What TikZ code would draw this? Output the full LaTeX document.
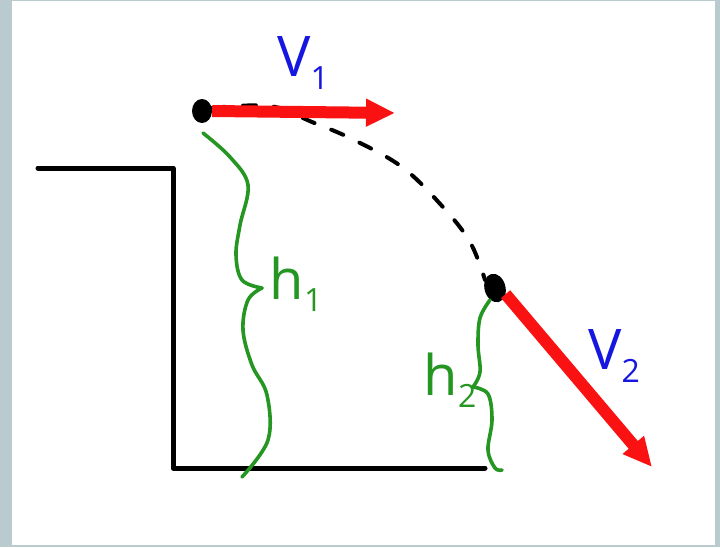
\documentclass[tikz,border=0pt]{standalone}
\usepackage{fontspec}
\setsansfont{Open Sans}
\usetikzlibrary{arrows.meta, shapes.geometric, positioning}
\definecolor{framegray}{RGB}{186,203,207}
\definecolor{penred}{RGB}{250,18,18}
\definecolor{penblue}{RGB}{22,22,225}
\definecolor{pengreen}{RGB}{38,150,34}
\newcommand{\pensub}[2]{#1\raisebox{-0.22em}{\fontsize{32}{32}\selectfont #2}}
\tikzset{
    ground/.style={draw=black, line width=5pt, line join=round, line cap=round},
    ball/.style={ellipse, fill=black, inner sep=0pt},
    velarrow/.style={draw=penred, line width=12pt, -{Triangle[length=29pt 0 0, width=26pt 0 0]}},
    flight/.style={draw=black, line width=4pt, dash pattern=on 13pt off 18pt, line cap=round},
    heightbrace/.style={draw=pengreen, line width=3.6pt, line cap=round, line join=round},
    penlabel/.style={font=\fontsize{56}{62}\selectfont\sffamily, inner sep=0pt},
}

\begin{document}
\begin{tikzpicture}[x=1pt, y=-1pt]
\fill[framegray] (0,0) rectangle (720,547);
\fill[white] (12,1) rectangle (715,545);

% cliff and ground
\draw[ground] (38,168) -- (173,168) -- (173,468) -- (485,468);

% the two positions of the ball
\node[ball, minimum width=20pt, minimum height=24pt] (ball1) at (202,111) {};
\node[ball, minimum width=21pt, minimum height=29pt, rotate=15] (ball2) at (495,288) {};
\coordinate (v1tip) at (395,113);
\coordinate (v2tip) at (652,467);

% flight path
\draw[flight] plot[smooth, tension=0.6] coordinates {(212,108) (270,106) (312,122) (352,139) (402,167) (442,206) (470,242) (ball2.north west)};

% velocities
\draw[velarrow] (ball1.east) -- (v1tip);
\draw[velarrow] (ball2.-45) -- (v2tip);
\node[penlabel, text=penblue] (v1label) at (303,63) {\pensub{V}{1}};
\node[penlabel, text=penblue] (v2label) at (614,356) {\pensub{V}{2}};

% heights
\draw[heightbrace] plot[smooth, tension=0.6] coordinates {(203,133) (230,157) (248,185) (240,225) (236,255) (242,280) (262,288)};
\draw[heightbrace] plot[smooth, tension=0.6] coordinates {(262,288) (248,300) (243,330) (252,365) (267,395) (268,440) (242,477)};
\draw[heightbrace] plot[smooth, tension=0.6] coordinates {(490,300) (480,318) (478,345) (480,372) (473,387)};
\draw[heightbrace] plot[smooth, tension=0.6] coordinates {(473,387) (488,394) (492,420) (488,450) (495,468) (502,470)};
\node[penlabel, text=pengreen] (h1label) at (296,284) {\pensub{h}{1}};
\node[penlabel, text=pengreen] (h2label) at (450,380) {\pensub{h}{2}};
\end{tikzpicture}
\end{document}
